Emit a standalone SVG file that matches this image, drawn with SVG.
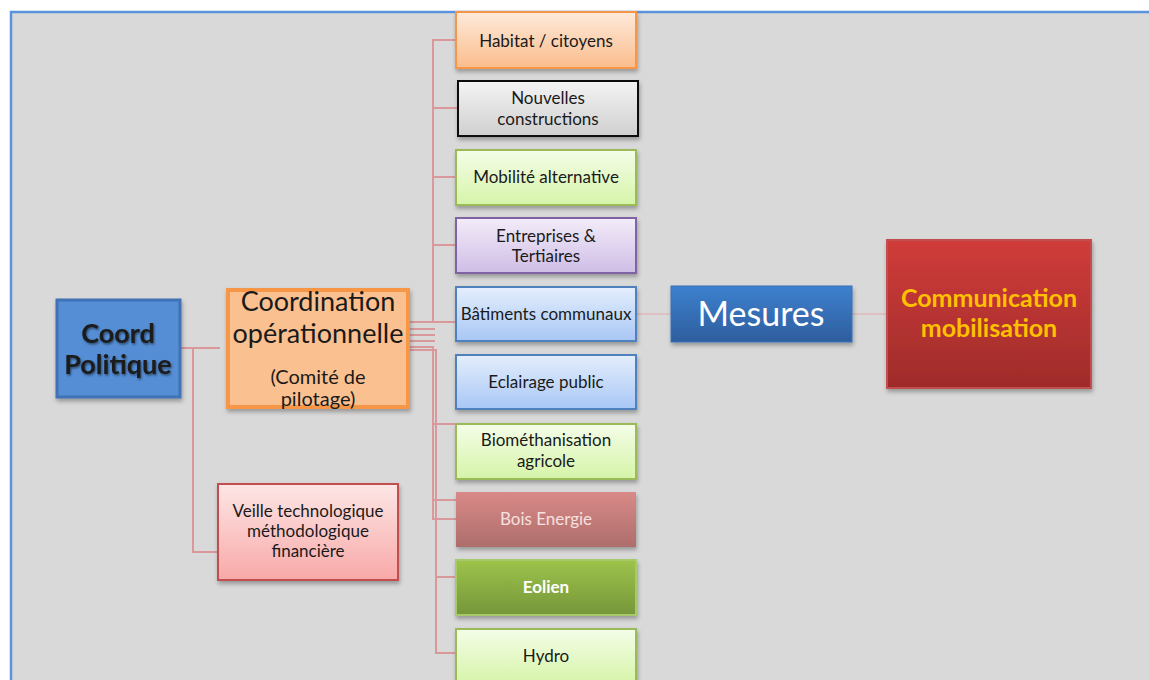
<svg xmlns="http://www.w3.org/2000/svg" width="1149" height="680" viewBox="0 0 1149 680">
<defs>
<filter id="sh" x="-10%" y="-10%" width="130%" height="140%"><feDropShadow dx="1" dy="3" stdDeviation="2" flood-color="#000" flood-opacity="0.3"/></filter>
<filter id="ts" x="-5%" y="-5%" width="115%" height="125%"><feDropShadow dx="1" dy="1.5" stdDeviation="1" flood-color="#000" flood-opacity="0.5"/></filter>
<linearGradient id="gPeach" x1="0" y1="0" x2="0" y2="1"><stop offset="0" stop-color="#fdeadb"/><stop offset="1" stop-color="#fbbd8c"/></linearGradient>
<linearGradient id="gGray" x1="0" y1="0" x2="0" y2="1"><stop offset="0" stop-color="#f4f4f4"/><stop offset="1" stop-color="#cfcfcf"/></linearGradient>
<linearGradient id="gGreen" x1="0" y1="0" x2="0" y2="1"><stop offset="0" stop-color="#f4fde8"/><stop offset="1" stop-color="#d6f4a8"/></linearGradient>
<linearGradient id="gPurple" x1="0" y1="0" x2="0" y2="1"><stop offset="0" stop-color="#f3ecf9"/><stop offset="1" stop-color="#cfbde6"/></linearGradient>
<linearGradient id="gBlue" x1="0" y1="0" x2="0" y2="1"><stop offset="0" stop-color="#e4eefc"/><stop offset="1" stop-color="#a8c7f5"/></linearGradient>
<linearGradient id="gBois" x1="0" y1="0" x2="0" y2="1"><stop offset="0" stop-color="#d98a88"/><stop offset="1" stop-color="#ad6e6c"/></linearGradient>
<linearGradient id="gEol" x1="0" y1="0" x2="0" y2="1"><stop offset="0" stop-color="#9dc34b"/><stop offset="1" stop-color="#76963a"/></linearGradient>
<linearGradient id="gMes" x1="0" y1="0" x2="0" y2="1"><stop offset="0" stop-color="#3d80ce"/><stop offset="1" stop-color="#2e5e9e"/></linearGradient>
<linearGradient id="gCom" x1="0" y1="0" x2="0" y2="1"><stop offset="0" stop-color="#d03c3a"/><stop offset="1" stop-color="#9f2b2a"/></linearGradient>
<linearGradient id="gVeille" x1="0" y1="0" x2="0" y2="1"><stop offset="0" stop-color="#fde6e6"/><stop offset="1" stop-color="#f8a9a8"/></linearGradient>
</defs>
<style>
.t{font-family:Lato,"Open Sans","Liberation Sans",sans-serif;font-size:17px;fill:#1a1a1a;text-anchor:middle}
.c{fill:none;stroke:#d9999a;stroke-width:2}
.cl{fill:none;stroke:#e3a8a8;stroke-width:1}
.box{filter:url(#sh)}
</style>
<rect x="0" y="0" width="1149" height="680" fill="#ffffff"/>
<rect x="11" y="12" width="1150" height="680" fill="#d9d9d9" stroke="#5b93dc" stroke-width="2.5"/>

<g id="connectors">
<path class="c" d="M181,348 H220"/>
<path class="c" d="M193,348 V552 H218"/>
<path class="c" d="M409,322 H433 V40 H456"/>
<path class="c" d="M433,108 H457"/>
<path class="c" d="M433,177 H456"/>
<path class="c" d="M433,245 H456"/>
<path class="c" d="M409,322 H456"/>
<path class="c" d="M409,329 H435"/>
<path class="c" d="M409,335 H435"/>
<path class="c" d="M409,341 H435"/>
<path class="c" d="M409,347 H433 V519 H456"/>
<path class="c" d="M433,500 H462"/>
<path class="c" d="M433,424 H456"/>
<path class="c" d="M409,350 H436 V653 H456"/>
<path class="c" d="M436,577 H456"/>
<path class="cl" d="M636,314 H671"/>
<path class="cl" d="M852,314 H886"/>
</g>

<g id="coord-politique">
<rect class="box" x="57" y="300" width="123" height="97" fill="#558ed5" stroke="#3f72b5" stroke-width="3"/>
<text class="t" style="font-size:27px;font-weight:bold;filter:url(#ts)" x="118" y="343">Coord</text>
<text class="t" style="font-size:27px;font-weight:bold;filter:url(#ts)" x="118" y="374">Politique</text>
</g>

<g id="coordination">
<rect class="box" x="228" y="290" width="180" height="117" fill="#fac090" stroke="#f79646" stroke-width="4"/>
<text class="t" style="font-size:27px" x="318" y="311">Coordination</text>
<text class="t" style="font-size:27px" x="318" y="343">opérationnelle</text>
<text class="t" style="font-size:20px" x="318" y="384">(Comité de</text>
<text class="t" style="font-size:20px" x="318" y="406">pilotage)</text>
</g>

<g id="veille">
<rect class="box" x="218" y="484" width="180" height="96" fill="url(#gVeille)" stroke="#c0504d" stroke-width="2"/>
<text class="t" x="308" y="517">Veille technologique</text>
<text class="t" x="308" y="537">méthodologique</text>
<text class="t" x="308" y="557">financière</text>
</g>

<g id="habitat">
<rect class="box" x="456" y="12" width="180" height="56" fill="url(#gPeach)" stroke="#f79646" stroke-width="2"/>
<text class="t" x="546" y="47">Habitat / citoyens</text>
</g>
<g id="nouvelles">
<rect class="box" x="458" y="81" width="180" height="55" fill="url(#gGray)" stroke="#111" stroke-width="2"/>
<text class="t" x="548" y="104">Nouvelles</text>
<text class="t" x="548" y="125">constructions</text>
</g>
<g id="mobilite">
<rect class="box" x="456" y="150" width="180" height="55" fill="url(#gGreen)" stroke="#9bbb59" stroke-width="2"/>
<text class="t" x="546" y="183">Mobilité alternative</text>
</g>
<g id="entreprises">
<rect class="box" x="456" y="218" width="180" height="55" fill="url(#gPurple)" stroke="#8064a2" stroke-width="2"/>
<text class="t" x="546" y="242">Entreprises &amp;</text>
<text class="t" x="546" y="262">Tertiaires</text>
</g>
<g id="batiments">
<rect class="box" x="456" y="287" width="180" height="54" fill="url(#gBlue)" stroke="#4f81bd" stroke-width="2"/>
<text class="t" x="546" y="320">Bâtiments communaux</text>
</g>
<g id="eclairage">
<rect class="box" x="456" y="355" width="180" height="54" fill="url(#gBlue)" stroke="#4f81bd" stroke-width="2"/>
<text class="t" x="546" y="388">Eclairage public</text>
</g>
<g id="biomethanisation">
<rect class="box" x="456" y="424" width="180" height="55" fill="url(#gGreen)" stroke="#9bbb59" stroke-width="2"/>
<text class="t" x="546" y="446">Biométhanisation</text>
<text class="t" x="546" y="467">agricole</text>
</g>
<g id="bois">
<rect class="box" x="456" y="492" width="180" height="55" fill="url(#gBois)"/>
<text class="t" style="fill:#f6e0e0" x="546" y="525">Bois Energie</text>
</g>
<g id="eolien">
<rect class="box" x="456" y="560" width="180" height="55" fill="url(#gEol)" stroke="#a6c96a" stroke-width="2"/>
<text class="t" style="fill:#fff;font-weight:bold" x="546" y="593">Eolien</text>
</g>
<g id="hydro">
<rect class="box" x="456" y="629" width="180" height="55" fill="url(#gGreen)" stroke="#9bbb59" stroke-width="2"/>
<text class="t" x="546" y="662">Hydro</text>
</g>

<g id="mesures">
<rect class="box" x="671" y="286" width="181" height="56" fill="url(#gMes)" stroke="#3a70b8" stroke-width="1"/>
<text class="t" style="font-size:34px;fill:#fff" x="761" y="326">Mesures</text>
</g>

<g id="communication">
<rect class="box" x="887" y="240" width="204" height="148" fill="url(#gCom)" stroke="#c0504d" stroke-width="2"/>
<text class="t" style="font-size:25px;font-weight:bold;fill:#ffc000" x="989" y="307">Communication</text>
<text class="t" style="font-size:25px;font-weight:bold;fill:#ffc000" x="989" y="337">mobilisation</text>
</g>
</svg>
